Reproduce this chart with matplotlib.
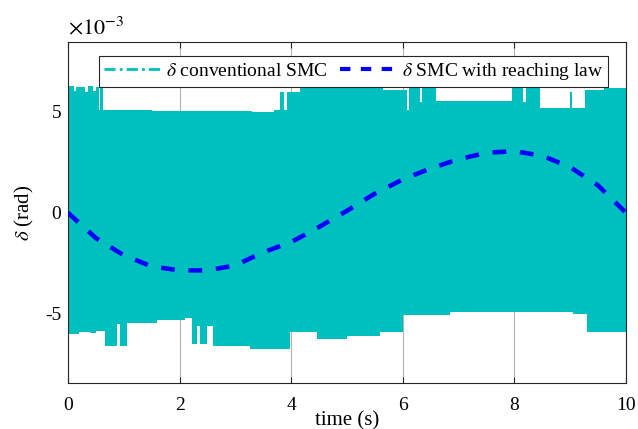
import numpy as np
import matplotlib
matplotlib.use("Agg")
import matplotlib.pyplot as plt
from matplotlib.lines import Line2D
from matplotlib.ticker import FuncFormatter

plt.rcParams['font.family'] = ['Liberation Serif', 'DejaVu Serif']
plt.rcParams['mathtext.fontset'] = 'stix'

# ---- data (values in units of 1e-3 rad) ----
# envelope of the chattering "conventional SMC" signal (step-wise)
upper_t = [0.00, 0.10, 0.15, 0.30, 0.35, 0.45, 0.50, 0.55, 0.58, 0.62, 1.50, 2.50, 3.30, 3.70,
           3.80, 3.87, 3.92, 4.16, 4.40, 5.00, 5.40, 5.65, 6.07, 6.12, 6.30, 6.35, 6.60,
           7.96, 8.15, 8.20, 8.46, 9.00, 9.03, 9.27, 9.60, 10.0]
upper_v = [6.25, 6.05, 6.20, 6.00, 6.25, 6.05, 6.20, 5.10, 6.20, 5.10, 5.05, 5.05, 5.00, 5.10,
           6.00, 5.10, 6.00, 6.15, 6.20, 6.25, 6.30, 6.10, 5.10, 6.30, 5.50, 6.30, 5.55,
           6.20, 5.50, 6.20, 5.20, 6.00, 5.20, 6.10, 6.15, 6.30]
lower_t = [0.00, 0.20, 0.40, 0.50, 0.66, 0.88, 0.93, 1.06, 1.60, 2.10, 2.22, 2.31, 2.37, 2.49,
           2.60, 3.26, 3.98, 4.46, 5.00, 5.60, 6.00, 6.85, 9.05, 9.30, 10.0]
lower_v = [-6.00, -5.90, -5.95, -5.85, -6.60, -5.50, -6.60, -5.45, -5.30, -5.20, -6.50, -5.60,
           -6.50, -5.60, -6.60, -6.75, -5.90, -6.24, -6.10, -5.90, -5.08, -4.90, -5.00, -5.90, -6.00]

# reference "SMC with reaching law"
ref_t = [0, 0.5, 1, 1.5, 2, 2.5, 3, 3.5, 4, 4.5, 5, 5.5, 6, 6.5, 7, 7.5, 8, 8.5, 9, 9.5, 10]
ref_v = [0.0, -1.25, -2.1, -2.65, -2.85, -2.85, -2.6, -1.95, -1.45, -0.7, 0.1, 0.95, 1.65,
         2.2, 2.65, 2.97, 3.05, 2.82, 2.26, 1.35, 0.0]

xticks = [0, 2, 4, 6, 8, 10]
yticks = [-5, 0, 5]
labels = [r'$\delta$ conventional SMC', r'$\delta$ SMC with reaching law']

scale = 1e-3
cyan = (0.0, 0.75, 0.75)
blue = (0.0, 0.0, 1.0)

fig = plt.figure(figsize=(6.38, 4.29), dpi=100)
ax = fig.add_axes([68/638, 46/429, 558/638, 341/429])

ut = np.array(upper_t); uv = np.array(upper_v) * scale
lt = np.array(lower_t); lv = np.array(lower_v) * scale
tt = np.union1d(ut, lt)
def step_eval(t, v, q):
    idx = np.searchsorted(t, q, side='right') - 1
    idx = np.clip(idx, 0, len(v) - 1)
    return v[idx]
ax.fill_between(tt, step_eval(lt, lv, tt), step_eval(ut, uv, tt), step='post',
                color=cyan, linewidth=0, zorder=2)

ax.plot(np.array(ref_t), np.array(ref_v) * scale, color=blue, lw=3.3,
        linestyle=(0, (3, 3)), zorder=3)

ax.set_xlim(0, 10)
ax.set_ylim(-8.42e-3, 8.45e-3)
ax.set_xticks(xticks)
ax.set_yticks([y * scale for y in yticks])
ax.yaxis.set_major_formatter(FuncFormatter(lambda v, p: f"{v/scale:.0f}".replace('\u2212', '-')))
ax.grid(True, axis='x', color=(0.15, 0.15, 0.15), alpha=0.35, lw=0.8, zorder=1)
ax.set_axisbelow(True)
ax.tick_params(direction='in', labelsize=14, length=4, colors=(0.15, 0.15, 0.15),
               top=True, right=True)
ax.tick_params(axis='x', pad=10)
ax.tick_params(axis='y', pad=5)
for lab in ax.get_xticklabels() + ax.get_yticklabels():
    lab.set_color('black')
for s in ax.spines.values():
    s.set_color((0.15, 0.15, 0.15)); s.set_linewidth(0.8)

ax.set_xlabel('time (s)', fontsize=15, labelpad=-2)
ax.set_ylabel(r'$\delta$ (rad)', fontsize=15, labelpad=6)
ax.text(0.0, 1.008, r'$\times10^{\mathrm{-3}}$', transform=ax.transAxes, fontsize=16,
        ha='left', va='bottom')

handles = [Line2D([], [], color=cyan, lw=2, linestyle=(0, (4, 1.5, 1, 1.5))),
           Line2D([], [], color=blue, lw=3, linestyle=(0, (2.5, 2.5)))]
leg = ax.legend(handles, labels, loc='upper center', bbox_to_anchor=(0.512, 0.958), ncol=2,
                fontsize=14, frameon=True, fancybox=False, edgecolor=(0.15, 0.15, 0.15),
                framealpha=1, handlelength=2.9, columnspacing=0.6, handletextpad=0.3,
                borderpad=0.25, borderaxespad=0)
leg.get_frame().set_linewidth(0.8)
leg.set_zorder(5)

fig.savefig('out.png', dpi=100)
